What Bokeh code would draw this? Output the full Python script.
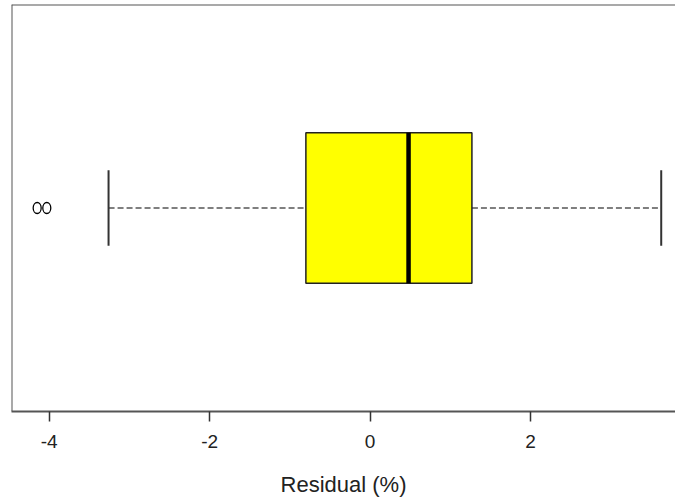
from bokeh.plotting import figure
from bokeh.models import Span, Range1d, FixedTicker, PrintfTickFormatter
from bokeh.embed import file_html
from bokeh.resources import INLINE

# Box statistics (Residual, %)
whisker_low = [-3.26]
q1 = [-0.80]
median = [0.48]
q3 = [1.27]
whisker_high = [3.63]
outliers = [-4.15, -4.03]
group = [1.0]
tick_values = [-4, -2, 0, 2]

BOX_HALF = 0.2
CAP_HALF = 0.1

p = figure(width=675, height=499, output_backend="svg", toolbar_location=None,
           x_range=Range1d(-4.47, 3.808), y_range=Range1d(0.46, 1.54),
           min_border_left=11, min_border_right=0, min_border_top=4, min_border_bottom=85)
p.outline_line_color = None
p.grid.visible = False
p.yaxis.visible = False
p.background_fill_color = "white"
p.border_fill_color = "white"

xa = p.xaxis[0]
xa.ticker = FixedTicker(ticks=tick_values)
xa.formatter = PrintfTickFormatter(format="%d")
xa.axis_line_color = "#555555"
xa.axis_line_width = 2
xa.major_tick_line_color = "#333333"
xa.major_tick_line_width = 1.5
xa.major_tick_in = 0
xa.major_tick_out = 10
xa.minor_tick_line_color = None
xa.major_label_text_font = "Liberation Sans"
xa.major_label_text_font_size = "19px"
xa.major_label_text_color = "#222222"
xa.major_label_standoff = 13
xa.axis_label = "Residual (%)"
xa.axis_label_text_font = "Liberation Sans"
xa.axis_label_text_font_style = "normal"
xa.axis_label_text_font_size = "22px"
xa.axis_label_text_color = "#222222"
xa.axis_label_standoff = 21

# frame: left and top lines
p.add_layout(Span(location=p.x_range.start, dimension="height", line_color="#555555", line_width=2))
p.add_layout(Span(location=p.y_range.end, dimension="width", line_color="#555555", line_width=2))

y_lo = [g - BOX_HALF for g in group]
y_hi = [g + BOX_HALF for g in group]
c_lo = [g - CAP_HALF for g in group]
c_hi = [g + CAP_HALF for g in group]

# whiskers (dashed)
p.segment(x0=whisker_low, y0=group, x1=q1, y1=group, line_color="black", line_width=1.2, line_dash="6 3")
p.segment(x0=q3, y0=group, x1=whisker_high, y1=group, line_color="black", line_width=1.2, line_dash="6 3")
# staples
p.segment(x0=whisker_low, y0=c_lo, x1=whisker_low, y1=c_hi, line_color="#333333", line_width=2)
p.segment(x0=whisker_high, y0=c_lo, x1=whisker_high, y1=c_hi, line_color="#333333", line_width=2)
# box
p.quad(left=q1, right=q3, bottom=y_lo, top=y_hi, fill_color="#FFFF00", line_color="#222222", line_width=1.5)
# median
p.segment(x0=median, y0=y_lo, x1=median, y1=y_hi, line_color="black", line_width=4.5)
# outliers
p.ellipse(x=outliers, y=[group[0]] * len(outliers), width=8, height=11,
          width_units="screen", height_units="screen",
          fill_color=None, line_color="black", line_width=1.3)

open("out.html", "w").write(file_html(p, INLINE))
